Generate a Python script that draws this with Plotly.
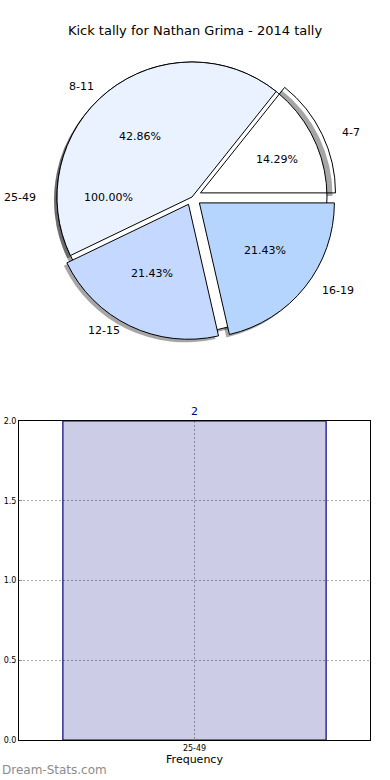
import math
import plotly.graph_objects as go

# ---- data ----
pie_labels = ["4-7", "8-11", "12-15", "16-19"]
pie_values = [2, 6, 3, 3]
pie_colors = ["rgba(255,255,255,0)", "#EBF2FF", "#C5D8FF", "#B5D5FF"]
pie_pull = [0.07, 0.0, 0.06, 0.07]

extra_labels = ["25-49"]
extra_values = [1]

bar_categories = ["25-49"]
bar_values = [2]
y_ticks = [0.0, 0.5, 1.0, 1.5, 2.0]

title_text = "Kick tally for Nathan Grima - 2014 tally"
font_family = "DejaVu Sans"

W, H = 390, 780
CX, CY, R = 192, 197, 135          # pie centre / radius in px
RX, RY = 140, 128                  # text placement radii (reference pie is slightly oval)
SHX, SHY = -3, 3                   # shadow offset in px
pmax = max(pie_pull)


def dom(cx, cy, half):
    return dict(x=[(cx - half) / W, (cx + half) / W],
                y=[1 - (cy + half) / H, 1 - (cy - half) / H])


rot0 = 90 - 360 * pie_values[0] / sum(pie_values)
fig = go.Figure()

# shadows
shadow = "rgba(0,0,0,0.35)"
fig.add_trace(go.Pie(
    labels=pie_labels, values=pie_values, sort=False, direction="counterclockwise",
    rotation=rot0, pull=pie_pull, textinfo="none", hoverinfo="skip",
    marker=dict(colors=[shadow] * 4, line=dict(width=0)),
    domain=dom(CX + SHX, CY + SHY, R * (1 + pmax)), showlegend=False,
))
fig.add_trace(go.Pie(
    labels=extra_labels, values=extra_values, sort=False, textinfo="none", hoverinfo="skip",
    marker=dict(colors=[shadow], line=dict(width=0)),
    domain=dom(CX + SHX, CY + SHY, R), showlegend=False,
))
# background full pie (25-49, 100%)
fig.add_trace(go.Pie(
    labels=extra_labels, values=extra_values, sort=False, textinfo="none", hoverinfo="skip",
    marker=dict(colors=["white"], line=dict(color="black", width=1)),
    domain=dom(CX, CY, R), showlegend=False,
))
# main slices
fig.add_trace(go.Pie(
    labels=pie_labels, values=pie_values, sort=False, direction="counterclockwise",
    rotation=rot0, pull=pie_pull, textinfo="none",
    marker=dict(colors=pie_colors, line=dict(color="black", width=1)),
    domain=dom(CX, CY, R * (1 + pmax)), showlegend=False,
))

# ---- pie texts (matplotlib-style placement: label at 1.1 r, percent at 0.6 r) ----
annotations = []


def add_pie_texts(labels, values, pulls):
    total = sum(values)
    start = 0.0
    for lab, v, p in zip(labels, values, pulls):
        frac = v / total
        mid = math.radians(start + 180 * frac)
        start += 360 * frac
        c, s = math.cos(mid), math.sin(mid)
        lx = CX + (1.1 + p) * RX * c
        ly = CY - (1.1 + p) * RY * s
        annotations.append(dict(
            text=lab, xref="paper", yref="paper", x=lx / W, y=1 - ly / H,
            xanchor="left" if c > 0 else "right", yanchor="middle",
            showarrow=False, font=dict(size=11, family=font_family, color="black")))
        px = CX + (0.6 + p) * RX * c
        py = CY - (0.6 + p) * RY * s
        annotations.append(dict(
            text=f"{100 * frac:.2f}%", xref="paper", yref="paper", x=px / W, y=1 - py / H,
            xanchor="center", yanchor="middle",
            showarrow=False, font=dict(size=11, family=font_family, color="black")))


add_pie_texts(pie_labels, pie_values, pie_pull)
add_pie_texts(extra_labels, extra_values, [0])

annotations.append(dict(text="Dream-Stats.com", xref="paper", yref="paper",
                        x=0, y=1 - 770 / H, xanchor="left", yanchor="middle", showarrow=False,
                        font=dict(size=12, family=font_family, color="#8C8C8C")))

fig.add_trace(go.Bar(
    x=bar_categories, y=bar_values, width=0.75,
    marker=dict(color="rgba(0,0,128,0.2)", line=dict(color="#000080", width=1.2)),
    text=[str(v) for v in bar_values], textposition="outside",
    textfont=dict(family=font_family, size=11, color="#000080"),
    cliponaxis=False, showlegend=False, xaxis="x", yaxis="y",
))

grid = dict(showgrid=True, gridcolor="#A8A8A8", griddash="2px,2px", gridwidth=1)
fig.update_layout(
    width=W, height=H,
    margin=dict(l=0, r=0, t=0, b=0, autoexpand=False),
    paper_bgcolor="white", plot_bgcolor="white",
    font=dict(family=font_family, color="black"),
    title=dict(text=title_text, x=0.5, xanchor="center", y=1 - 30 / H, yanchor="middle",
               font=dict(family=font_family, size=13, color="black")),
    xaxis=dict(domain=[19 / W, 370 / W], anchor="y", range=[-0.5, 0.5], automargin=False,
               showline=True, linecolor="black", linewidth=1, mirror=True, **grid,
               ticks="inside", ticklen=3, tickcolor="#888888",
               tickfont=dict(size=8, family=font_family),
               title=dict(text="Frequency", font=dict(size=11, family=font_family), standoff=2)),
    yaxis=dict(domain=[1 - 740 / H, 1 - 421 / H], anchor="x", range=[0, 2], automargin=False,
               tickvals=y_ticks, ticktext=[f"{v:.1f}" for v in y_ticks],
               showline=True, linecolor="black", linewidth=1, mirror=True, **grid,
               ticks="inside", ticklen=3, tickcolor="#888888",
               tickfont=dict(size=8, family=font_family), zeroline=False),
    annotations=annotations,
)

fig.write_html("out.html", config={"displayModeBar": False},
               post_script="document.body.style.margin='0';document.body.style.padding='0';")
